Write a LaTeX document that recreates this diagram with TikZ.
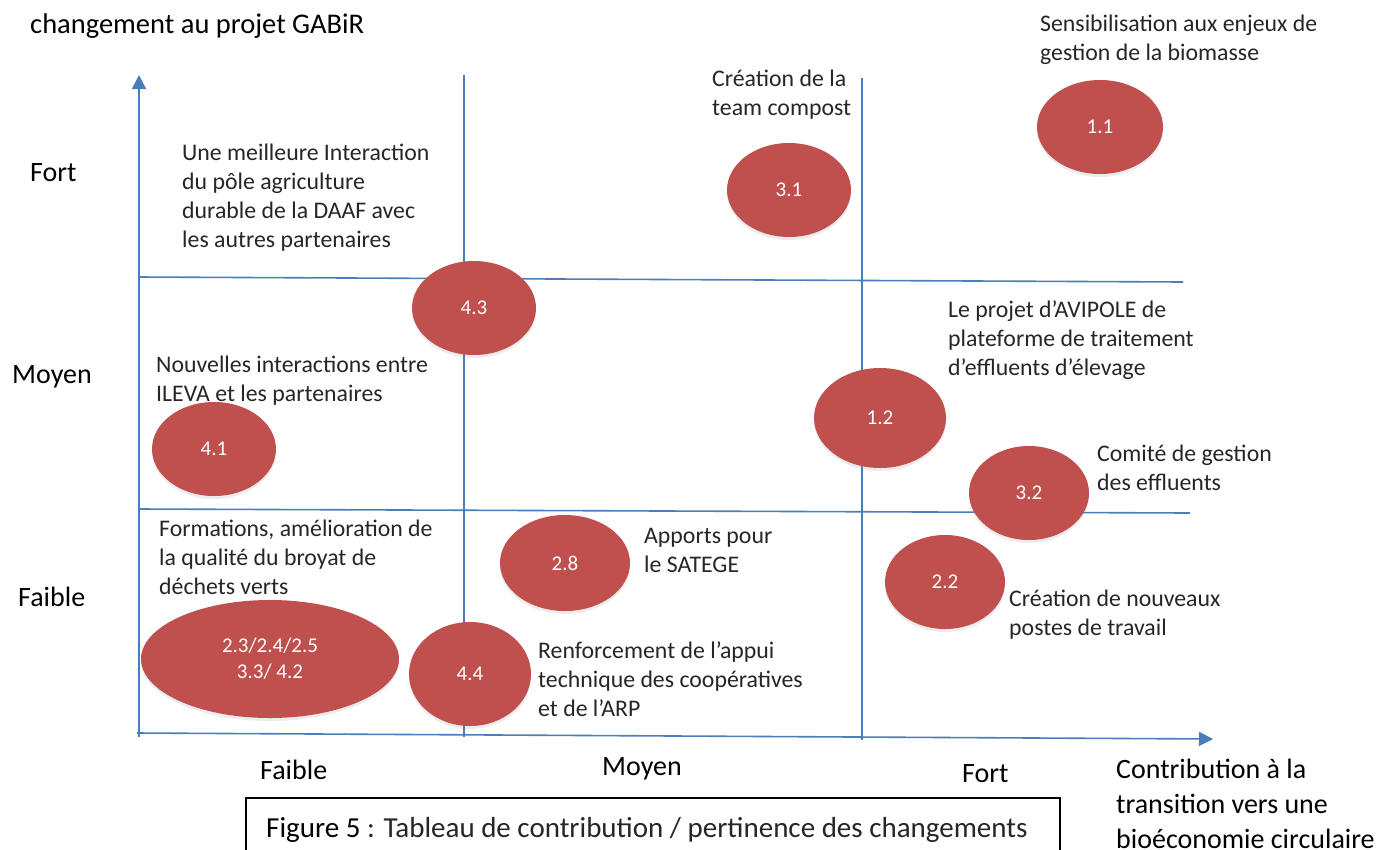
\documentclass[tikz,border=0pt]{standalone}
\usepackage{fontspec}
\setmainfont{Carlito}
\usetikzlibrary{arrows.meta,shapes.geometric,shadows}
\definecolor{axisblue}{HTML}{4A7EBB}
\definecolor{bubred}{HTML}{C0504D}
\definecolor{txtgray}{HTML}{262626}
\newcommand\lblstrut{\rule{0pt}{18pt}}
\newcommand\bigstrut{\rule{0pt}{22pt}}
\tikzset{
  axisline/.style={axisblue, line width=1.6pt},
  axarrow/.style={axisline, -{Triangle[width=14pt,length=14pt]}},
  bubble/.style={ellipse, fill=bubred, text=white, inner sep=0pt, align=center,
    font=\fontsize{21}{26}\selectfont,
    drop shadow={opacity=0.15, shadow xshift=0pt, shadow yshift=-3pt}},
  lbl/.style={anchor=north west, inner sep=0pt, align=left, text=txtgray,
    font=\fontsize{23.8}{29}\selectfont},
  axlbl/.style={anchor=base west, inner sep=0pt, font=\fontsize{28}{35}\selectfont},
  bigblock/.style={anchor=north west, inner sep=0pt, align=left, font=\fontsize{28}{35}\selectfont},
}
\begin{document}
\begin{tikzpicture}[x=1pt,y=-1pt]
\clip (0,0) rectangle (1383,849);
\fill[white] (0,0) rectangle (1383,849);

% axes and grid coordinates
\coordinate (yb) at (139,737);
\coordinate (yt) at (139,75);
\coordinate (xl) at (137,733);
\coordinate (xr) at (1213,739);
\coordinate (v1t) at (464,75);
\coordinate (v1b) at (464,737);
\coordinate (v2t) at (862,78);
\coordinate (v2b) at (862,740);
\coordinate (h1l) at (139,277);
\coordinate (h1r) at (1183,282);
\coordinate (h2l) at (139,509);
\coordinate (h2r) at (1190,513);

\draw[axarrow] (yb) -- (yt);
\draw[axarrow] (xl) -- (xr);
\draw[axisline] (v1t) -- (v1b);
\draw[axisline] (v2t) -- (v2b);
\draw[axisline] (h1l) -- (h1r);
\draw[axisline] (h2l) -- (h2r);

% axis labels
\node[axlbl, font=\fontsize{28.5}{35}\selectfont] (ytitle) at (30,33) {changement au projet GABiR};
\node[axlbl] (yfort) at (30,181) {Fort};
\node[axlbl] (ymoyen) at (12,383) {Moyen};
\node[axlbl] (yfaible) at (18,606) {Faible};
\node[axlbl] (xfaible) at (260,779) {Faible};
\node[axlbl] (xmoyen) at (602,775) {Moyen};
\node[axlbl] (xfort) at (962,782) {Fort};
\node[bigblock] (xtitle) at (1116,756) {\bigstrut Contribution à la\\transition vers une\\bioéconomie circulaire};

% caption box
\draw[black, line width=1.2pt] (246,870) -- (246,798) -- (1060,798) -- (1060,870);
\node[anchor=base west, inner sep=0pt, font=\fontsize{29}{34}\selectfont, text=txtgray] (caption) at (266,837)
  {\textcolor{black}{Figure 5} : Tableau de contribution / pertinence des changements};

% bubbles
\node[bubble, minimum width=126pt, minimum height=94pt] (b11) at (1100,127) {1.1};
\node[bubble, minimum width=124pt, minimum height=94pt] (b31) at (789,190) {3.1};
\node[bubble, minimum width=124pt, minimum height=94pt] (b43) at (474,308) {4.3};
\node[bubble, minimum width=124pt, minimum height=94pt] (b41) at (214,449) {4.1};
\node[bubble, minimum width=132pt, minimum height=100pt] (b12) at (880,418) {1.2};
\node[bubble, minimum width=120pt, minimum height=94pt] (b32) at (1029,493) {3.2};
\node[bubble, minimum width=130pt, minimum height=96pt] (b28) at (565,563) {2.8};
\node[bubble, minimum width=120pt, minimum height=94pt] (b22) at (945,582) {2.2};
\node[bubble, minimum width=258pt, minimum height=118pt] (bbig) at (270,659) {2.3/2.4/2.5\\3.3/ 4.2};
\node[bubble, minimum width=122pt, minimum height=104pt] (b44) at (470,674) {4.4};

% labels
\node[lbl] (l11) at (1040,13) {\lblstrut Sensibilisation aux enjeux de\\gestion de la biomasse};
\node[lbl] (l31) at (712,68) {\lblstrut Création de la\\team compost};
\node[lbl] (l43) at (182,142) {\lblstrut Une meilleure Interaction\\du pôle agriculture\\durable de la DAAF avec\\les autres partenaires};
\node[lbl] (l12) at (948,299) {\lblstrut Le projet d’AVIPOLE de\\plateforme de traitement\\d’effluents d’élevage};
\node[lbl] (l41) at (156,354) {\lblstrut Nouvelles interactions entre\\ILEVA et les partenaires};
\node[lbl] (l32) at (1097,443) {\lblstrut Comité de gestion\\des effluents};
\node[lbl] (lbig) at (159,518) {\lblstrut Formations, amélioration de\\la qualité du broyat de\\déchets verts};
\node[lbl] (l28) at (644,525) {\lblstrut Apports pour\\le SATEGE};
\node[lbl] (l22) at (1009,588) {\lblstrut Création de nouveaux\\postes de travail};
\node[lbl] (l44) at (538,640) {\lblstrut Renforcement de l’appui\\technique des coopératives\\et de l’ARP};
\end{tikzpicture}
\end{document}
